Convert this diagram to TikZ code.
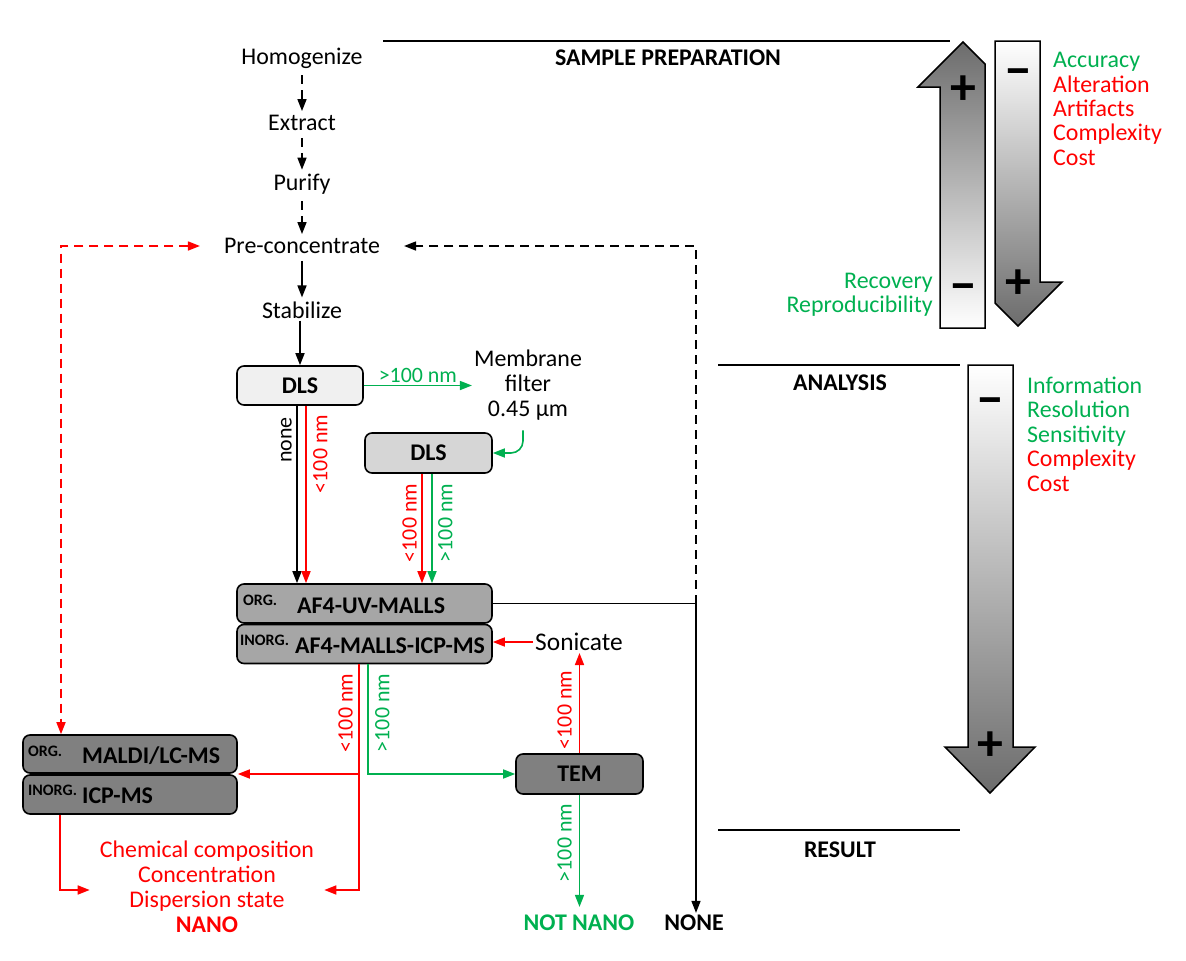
\documentclass[tikz,border=0pt]{standalone}
\usepackage{fontspec}
\setmainfont{Carlito}
\usetikzlibrary{arrows.meta,calc}
\definecolor{grn}{RGB}{0,176,80}
\definecolor{rd}{RGB}{255,0,0}
\definecolor{fillA}{RGB}{240,240,240}
\definecolor{fillB}{RGB}{214,214,214}
\definecolor{fillC}{RGB}{166,166,166}
\definecolor{fillD}{RGB}{128,128,128}
\definecolor{darkg}{RGB}{108,108,108}
\tikzset{
  txt/.style={font=\fontsize{24}{25}\selectfont, inner sep=2bp},
  lbl/.style={font=\fontsize{22}{24}\selectfont, inner sep=2bp},
  bld/.style={font=\fontsize{24}{26}\selectfont\bfseries, inner sep=2bp},
  smallcap/.style={font=\fontsize{16}{17}\selectfont\bfseries, inner sep=0bp},
  box/.style={draw, line width=1.6bp, rounded corners=7bp, inner sep=0bp, font=\fontsize{24}{26}\selectfont\bfseries},
  con/.style={line width=1.6bp},
  arr/.style={con, -{Triangle[length=12bp,width=9bp]}},
  dbl/.style={con, {Triangle[length=12bp,width=9bp]}-{Triangle[length=12bp,width=9bp]}},
  dsh/.style={dash pattern=on 9bp off 6bp},
  vlbl/.style={lbl, rotate=90},
  sign/.style={font=\fontsize{52}{52}\selectfont\bfseries, inner sep=0bp},
  hline/.style={line width=1.8bp},
  grad/.style={draw, line width=1.5bp},
  crit/.style={font=\fontsize{24}{24.5}\selectfont, inner sep=0bp},
}
\begin{document}
\begin{tikzpicture}[x=1bp,y=-1bp]
\useasboundingbox (0,0) rectangle (1186,961);

% headers
\draw[hline] (383,41) -- (950,41);
\draw[hline] (718,365) -- (960,365);
\draw[hline] (718,830) -- (960,830);
\node[bld] (hsp) at (668,58) {SAMPLE PREPARATION};
\node[bld] (han) at (840,383) {ANALYSIS};
\node[bld] (hre) at (840,850) {RESULT};

% preparation steps
\node[txt] (hom) at (302,58) {Homogenize};
\node[txt] (ext) at (302,123) {Extract};
\node[txt] (pur) at (302,184) {Purify};
\node[txt] (pre) at (302,246) {Pre-concentrate};
\node[txt] (stab) at (302,310) {Stabilize};
\draw[arr,dsh,shorten <=5bp,shorten >=2bp] (hom.south) -- (ext.north);
\draw[arr,dsh,shorten <=5bp,shorten >=2bp] (ext.south) -- (pur.north);
\draw[arr,dsh,shorten <=5bp,shorten >=2bp] (pur.south) -- (pre.north);
\draw[arr,shorten <=5bp,shorten >=2bp] (pre.south) -- (stab.north);

% boxes
\node[box, fill=fillA, minimum width=126bp, minimum height=39bp] (dls1) at (300,385.5) {DLS};
\node[box, fill=fillB, minimum width=127bp, minimum height=40bp] (dls2) at (428.5,453) {DLS};
\node[box, fill=fillC, minimum width=255bp, minimum height=39bp] (af4a) at (364.5,603.5) {};
\node[box, fill=fillC, minimum width=255bp, minimum height=39bp] (af4b) at (364.5,644) {};
\node[smallcap, anchor=west] (orgA) at (243,600) {ORG.};
\node[bld, anchor=west] (af4at) at (295,606) {AF4-UV-MALLS};
\node[smallcap, anchor=west] (inorgA) at (240,640) {INORG.};
\node[bld, anchor=west] (af4bt) at (293,646) {AF4-MALLS-ICP-MS};
\node[box, fill=fillD, minimum width=214bp, minimum height=38bp] (mala) at (130,754) {};
\node[box, fill=fillD, minimum width=214bp, minimum height=39bp] (malb) at (130,794.5) {};
\node[smallcap, anchor=west] (orgB) at (28,751) {ORG.};
\node[bld, anchor=west] (malat) at (80,756) {MALDI/LC-MS};
\node[smallcap, anchor=west] (inorgB) at (28,790) {INORG.};
\node[bld, anchor=west] (malbt) at (80,796) {ICP-MS};
\node[box, fill=fillD, minimum width=127bp, minimum height=40bp] (tem) at (579.5,774) {TEM};

% other texts
\node[txt, align=center] (mem) at (528,385) {Membrane\\filter\\0.45 µm};
\node[txt, font=\fontsize{25.5}{26}\selectfont] (son) at (579,642) {Sonicate};
\node[txt, text=rd, align=center] (res) at (207,887) {Chemical composition\\Concentration\\Dispersion state\\\textbf{NANO}};
\node[bld, text=grn] (nn) at (579,923) {NOT NANO};
\node[bld] (nonenode) at (694,923) {NONE};

% connectors
\draw[arr] (dls1.north |- stab.south) -- (dls1.north);
\draw[arr,grn] (dls1.east) -- (mem.west |- dls1.east) node[midway, above, lbl, text=grn] {>100 nm};
\draw[arr,grn,rounded corners=12bp] ($(mem.south)+(-5,8)$) |- (dls2.east);

\draw[arr] ([xshift=-3bp]dls1.south) -- ([xshift=-3bp]dls1.south |- af4a.north);
\draw[arr,rd] ([xshift=6bp]dls1.south) -- ([xshift=6bp]dls1.south |- af4a.north);
\node[vlbl, anchor=south] at (294,440) {none};
\node[vlbl, anchor=north, text=rd] at (311,454) {<100 nm};

\draw[arr,rd] ([xshift=-6.5bp]dls2.south) -- ([xshift=-6.5bp]dls2.south |- af4a.north);
\draw[arr,grn] ([xshift=3.5bp]dls2.south) -- ([xshift=3.5bp]dls2.south |- af4a.north);
\node[vlbl, anchor=south, text=rd] at (419,523) {<100 nm};
\node[vlbl, anchor=north, text=grn] at (436,523) {>100 nm};

\coordinate (fb) at (696,604);
\draw[con] (af4a.east) -- (af4a.east -| fb);
\draw[arr,dsh] (af4a.east -| fb) -- (fb |- pre.east) -- ($(pre.east)+(22,0)$);
\draw[arr] (af4a.east -| fb) -- (fb |- nonenode.north);

\coordinate (rdc) at (61,246);
\draw[dbl,rd,dsh] ($(pre.west)+(-22,0)$) -- (rdc) -- (rdc |- mala.north);

\draw[arr,rd] (son.west) -- (son.west -| af4b.east);

\coordinate (rj) at (359,774);
\coordinate (rb) at (359,890);
\coordinate (gj) at (368,774);
\draw[arr,rd] (af4b.south -| rj) -- (rb) -- ($(res.east |- rb)+(8,0)$);
\draw[arr,rd] (rj) -- (rj -| mala.east);
\draw[arr,grn] (af4b.south -| gj) -- (gj) -- (tem.west);
\node[vlbl, anchor=south, text=rd] at (355,713) {<100 nm};
\node[vlbl, anchor=north, text=grn] at (373,713) {>100 nm};

\coordinate (lb) at (60,890);
\draw[arr,rd] (malb.south -| lb) -- (lb) -- ($(res.west |- lb)+(-8,0)$);

\draw[arr,rd] (tem.north) -- (tem.north |- son.south);
\node[vlbl, anchor=south, text=rd] at (574,710) {<100 nm};
\draw[arr,grn,shorten >=6bp] (tem.south) -- (tem.south |- nn.north);
\node[vlbl, anchor=south, text=grn] at (574,843) {>100 nm};

% gradient arrows
\shadedraw[grad, top color=darkg, bottom color=white] (963,42) -- (985,64) -- (985,328) -- (940,328) -- (940,87) -- (918,87) -- cycle;
\shadedraw[grad, top color=white, bottom color=darkg] (995,41) -- (1040,41) -- (1040,282) -- (1062,282) -- (1018,326) -- (995,303) -- cycle;
\shadedraw[grad, top color=white, bottom color=darkg] (968,365) -- (1013,365) -- (1013,747) -- (1035,747) -- (990,793) -- (945,747) -- (968,747) -- cycle;
\node[sign] (s1) at (963,90) {+};
\node[sign] (s2) at (963,293) {−};
\node[sign] (s3) at (1018,78) {−};
\node[sign] (s4) at (1018,284) {+};
\node[sign] (s5) at (990,407) {−};
\node[sign] (s6) at (990,746) {+};

\node[crit, align=left, anchor=west] (c1) at (1053,109) {\textcolor{grn}{Accuracy}\\\textcolor{rd}{Alteration}\\\textcolor{rd}{Artifacts}\\\textcolor{rd}{Complexity}\\\textcolor{rd}{Cost}};
\node[crit, align=right, anchor=east, text=grn] (c2) at (933,295) {Recovery\\Reproducibility};
\node[crit, align=left, anchor=west] (c3) at (1027,434) {\textcolor{grn}{Information}\\\textcolor{grn}{Resolution}\\\textcolor{grn}{Sensitivity}\\\textcolor{rd}{Complexity}\\\textcolor{rd}{Cost}};
\end{tikzpicture}
\end{document}
